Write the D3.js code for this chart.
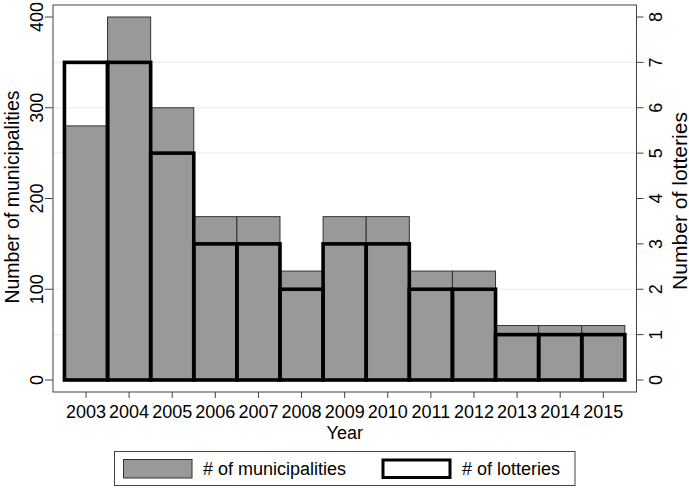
<!DOCTYPE html>
<html>
<head>
<meta charset="utf-8">
<script src="https://cdn.jsdelivr.net/npm/d3@7"></script>
<style>
  html, body { margin: 0; padding: 0; background: #fff; }
  svg { display: block; font-family: "Liberation Sans", Arial, Helvetica, sans-serif; }
</style>
</head>
<body>
<svg id="chart" width="689" height="488"></svg>
<script>
// ---- data ----
const years = [2003, 2004, 2005, 2006, 2007, 2008, 2009, 2010, 2011, 2012, 2013, 2014, 2015];
const municipalities = [280, 400, 300, 180, 180, 120, 180, 180, 120, 120, 60, 60, 60];
const lotteries = [7, 7, 5, 3, 3, 2, 3, 3, 2, 2, 1, 1, 1];
const leftTicks = [0, 100, 200, 300, 400];
const rightTicks = [0, 1, 2, 3, 4, 5, 6, 7, 8];
const gridTicks = [1, 2, 5, 6, 7];

// ---- layout ----
const W = 689, H = 488;
const box = { left: 53, right: 636.5, top: 5, bottom: 392 };
const font = 18;
const titleFont = 20;

const svg = d3.select("#chart");

const x = d3.scaleLinear().domain([2003, 2015]).range([86, 603.3]);
const yL = d3.scaleLinear().domain([0, 400]).range([380, 17]);
const yR = d3.scaleLinear().domain([0, 8]).range([380, 17]);

// gridlines (right axis)
svg.append("g").selectAll("line").data(gridTicks).join("line")
  .attr("x1", box.left).attr("x2", box.right)
  .attr("y1", d => yR(d)).attr("y2", d => yR(d))
  .attr("stroke", "#e6eef0").attr("stroke-width", 1.2);

// municipality bars
svg.append("g").selectAll("rect").data(years).join("rect")
  .attr("x", d => x(d - 0.5))
  .attr("width", d => x(d + 0.5) - x(d - 0.5))
  .attr("y", (d, i) => yL(municipalities[i]))
  .attr("height", (d, i) => yL(0) - yL(municipalities[i]))
  .attr("fill", "#999999")
  .attr("stroke", "#333333")
  .attr("stroke-width", 1);

// lottery bars (outline)
svg.append("g").selectAll("rect").data(years).join("rect")
  .attr("x", d => x(d - 0.5))
  .attr("width", d => x(d + 0.5) - x(d - 0.5))
  .attr("y", (d, i) => yR(lotteries[i]))
  .attr("height", (d, i) => yR(0) - yR(lotteries[i]))
  .attr("fill", "none")
  .attr("stroke", "#000")
  .attr("stroke-width", 3.6);

// plot box
svg.append("rect")
  .attr("x", box.left).attr("y", box.top)
  .attr("width", box.right - box.left).attr("height", box.bottom - box.top)
  .attr("fill", "none").attr("stroke", "#444").attr("stroke-width", 1);

// left axis ticks
const gL = svg.append("g");
gL.selectAll("line").data(leftTicks).join("line")
  .attr("x1", box.left - 8).attr("x2", box.left)
  .attr("y1", d => yL(d)).attr("y2", d => yL(d))
  .attr("stroke", "#444");
gL.selectAll("text").data(leftTicks).join("text")
  .attr("transform", d => `translate(42.5,${yL(d)}) rotate(-90)`)
  .attr("text-anchor", "middle")
  .attr("font-size", font)
  .text(d => d);

// right axis ticks
const gR = svg.append("g");
gR.selectAll("line").data(rightTicks).join("line")
  .attr("x1", box.right).attr("x2", box.right + 7)
  .attr("y1", d => yR(d)).attr("y2", d => yR(d))
  .attr("stroke", "#444");
gR.selectAll("text").data(rightTicks).join("text")
  .attr("transform", d => `translate(662,${yR(d)}) rotate(-90)`)
  .attr("text-anchor", "middle")
  .attr("font-size", font)
  .text(d => d);

// x axis ticks
const gX = svg.append("g");
gX.selectAll("line").data(years).join("line")
  .attr("x1", d => x(d)).attr("x2", d => x(d))
  .attr("y1", box.bottom).attr("y2", box.bottom + 6)
  .attr("stroke", "#444");
gX.selectAll("text").data(years).join("text")
  .attr("x", d => x(d)).attr("y", 418)
  .attr("text-anchor", "middle")
  .attr("font-size", font)
  .text(d => d);

// axis titles
svg.append("text")
  .attr("transform", `translate(19,197) rotate(-90)`)
  .attr("text-anchor", "middle").attr("font-size", titleFont)
  .attr("textLength", 213).attr("lengthAdjust", "spacingAndGlyphs")
  .text("Number of municipalities");
svg.append("text")
  .attr("transform", `translate(686.5,201) rotate(-90)`)
  .attr("text-anchor", "middle").attr("font-size", titleFont)
  .attr("textLength", 178).attr("lengthAdjust", "spacingAndGlyphs")
  .text("Number of lotteries");
svg.append("text")
  .attr("x", (box.left + box.right) / 2).attr("y", 439)
  .attr("text-anchor", "middle").attr("font-size", font)
  .text("Year");

// legend
const lg = svg.append("g");
lg.append("rect").attr("x", 114.5).attr("y", 451.5).attr("width", 460.5).attr("height", 34)
  .attr("fill", "#fff").attr("stroke", "#444").attr("stroke-width", 1);
lg.append("rect").attr("x", 123.5).attr("y", 459.5).attr("width", 68.5).attr("height", 18.5)
  .attr("fill", "#999999").attr("stroke", "#333").attr("stroke-width", 1);
lg.append("text").attr("x", 203).attr("y", 475).attr("font-size", font).text("# of municipalities");
lg.append("rect").attr("x", 383).attr("y", 460).attr("width", 67).attr("height", 17.5)
  .attr("fill", "none").attr("stroke", "#000").attr("stroke-width", 3);
lg.append("text").attr("x", 462).attr("y", 475).attr("font-size", font).text("# of lotteries");
</script>
</body>
</html>
